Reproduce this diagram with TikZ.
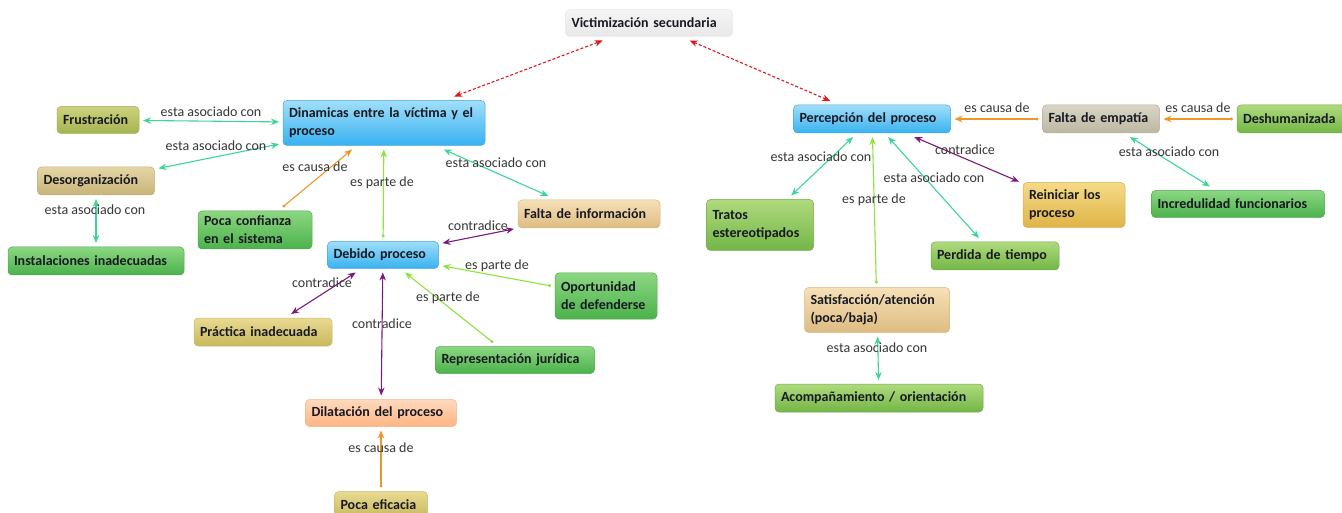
\documentclass[tikz,border=0pt]{standalone}
\usepackage{fontspec}
\setmainfont{Carlito}
\usepackage{xcolor}
\definecolor{ink}{RGB}{25, 25, 35}
\definecolor{lblgray}{RGB}{55, 55, 55}
\definecolor{assocgreen}{RGB}{60, 215, 150}
\definecolor{partegreen}{RGB}{140, 228, 60}
\definecolor{causaorange}{RGB}{238, 150, 40}
\definecolor{contrapurple}{RGB}{125, 25, 125}
\definecolor{linkred}{RGB}{220, 25, 25}
\usetikzlibrary{arrows.meta}

\begin{document}
\begin{tikzpicture}[x=1pt, y=-1pt, >={Stealth[length=8pt, width=6.5pt]},
    concept/.style={rounded corners=4pt, align=left, inner xsep=6pt, inner ysep=3pt, outer sep=4pt, line width=0.5pt, font=\fontsize{14}{18}\selectfont\bfseries, text=ink},
    greybox/.style={concept, top color=black!4, bottom color=black!9, draw=black!8},
    bluebox/.style={concept, top color={rgb,255:red,160;green,222;blue,250}, bottom color={rgb,255:red,55;green,178;blue,240}, draw={rgb,255:red,70;green,165;blue,215}},
    greenbox/.style={concept, top color={rgb,255:red,140;green,215;blue,130}, bottom color={rgb,255:red,75;green,178;blue,75}, draw={rgb,255:red,85;green,165;blue,85}},
    leafbox/.style={concept, top color={rgb,255:red,175;green,218;blue,125}, bottom color={rgb,255:red,115;green,182;blue,70}, draw={rgb,255:red,115;green,170;blue,80}},
    olivebox/.style={concept, top color={rgb,255:red,205;green,210;blue,125}, bottom color={rgb,255:red,165;green,180;blue,80}, draw={rgb,255:red,165;green,172;blue,95}},
    tanbox/.style={concept, top color={rgb,255:red,228;green,214;blue,165}, bottom color={rgb,255:red,200;green,180;blue,120}, draw={rgb,255:red,195;green,178;blue,130}},
    khakibox/.style={concept, top color={rgb,255:red,232;green,218;blue,145}, bottom color={rgb,255:red,200;green,184;blue,92}, draw={rgb,255:red,200;green,185;blue,110}},
    sandbox/.style={concept, top color={rgb,255:red,246;green,224;blue,182}, bottom color={rgb,255:red,222;green,188;blue,130}, draw={rgb,255:red,215;green,185;blue,140}},
    peachbox/.style={concept, top color={rgb,255:red,255;green,218;blue,190}, bottom color={rgb,255:red,255;green,180;blue,130}, draw={rgb,255:red,240;green,180;blue,140}},
    stonebox/.style={concept, top color={rgb,255:red,218;green,214;blue,198}, bottom color={rgb,255:red,188;green,183;blue,162}, draw={rgb,255:red,180;green,176;blue,160}},
    goldbox/.style={concept, top color={rgb,255:red,246;green,218;blue,135}, bottom color={rgb,255:red,222;green,180;blue,70}, draw={rgb,255:red,210;green,175;blue,90}},
    lbl/.style={font=\fontsize{14}{16}\selectfont, text=lblgray, inner sep=1pt},
    assoc/.style={<->, line width=1.1pt, assocgreen},
    parte/.style={{Circle[length=3pt]}->, line width=1.1pt, partegreen},
    causa/.style={{Circle[length=3pt]}->, line width=1.1pt, causaorange},
    contra/.style={<->, line width=1.1pt, contrapurple},
    victlink/.style={<->, line width=1.1pt, linkred, dash pattern=on 3pt off 2pt}]

    \fill[white] (0,0) rectangle (1342,513);
    \useasboundingbox (0,0) rectangle (1342,513);

    % Central concept
    \node[greybox, text width=155pt, minimum height=27pt] (vict) at (649,23) {Victimización secundaria};

    % Left branch
    \node[bluebox, text width=190pt, minimum height=45pt] (dinam) at (384,123) {Dinamicas entre la víctima y el\\proceso};
    \node[olivebox, text width=70pt, minimum height=27pt] (frus) at (98,120) {Frustración};
    \node[tanbox, text width=105pt, minimum height=28pt] (desorg) at (96,181) {Desorganización};
    \node[greenbox, text width=164pt, minimum height=28pt] (instal) at (96,261) {Instalaciones inadecuadas};
    \node[greenbox, text width=102pt, minimum height=38pt] (confianza) at (255,230) {Poca confianza\\en el sistema};
    \node[bluebox, text width=99pt, minimum height=27pt] (debido) at (383,255) {Debido proceso};
    \node[sandbox, text width=130pt, minimum height=28pt] (faltainfo) at (589,214) {Falta de información};
    \node[greenbox, text width=90pt, minimum height=46pt] (oport) at (606,296) {Oportunidad\\de defenderse};
    \node[khakibox, text width=126pt, minimum height=28pt] (practica) at (263,332) {Práctica inadecuada};
    \node[greenbox, text width=147pt, minimum height=27pt] (repres) at (515,360) {Representación jurídica};
    \node[peachbox, text width=139pt, minimum height=27pt] (dilat) at (381,413) {Dilatación del proceso};
    \node[khakibox, text width=81pt, minimum height=27pt] (eficacia) at (381,505) {Poca eficacia};

    % Right branch
    \node[bluebox, text width=145pt, minimum height=28pt] (percep) at (872,119) {Percepción del proceso};
    \node[stonebox, text width=105pt, minimum height=28pt] (empatia) at (1101,119) {Falta de empatía};
    \node[leafbox, text width=104pt, minimum height=28pt] (deshum) at (1295,119) {Deshumanizada};
    \node[greenbox, text width=161pt, minimum height=27pt] (incred) at (1238,204) {Incredulidad funcionarios};
    \node[goldbox, text width=90pt, minimum height=45pt] (reiniciar) at (1074,205) {Reiniciar los\\proceso};
    \node[leafbox, text width=116pt, minimum height=28pt] (perdida) at (995,256) {Perdida de tiempo};
    \node[leafbox, text width=95pt, minimum height=51pt] (tratos) at (760,225) {Tratos\\estereotipados};
    \node[sandbox, text width=133pt, minimum height=45pt] (satisf) at (877,310) {Satisfacción/atención\\(poca/baja)};
    \node[leafbox, text width=196pt, minimum height=28pt] (acomp) at (879,398) {Acompañamiento / orientación};

    % Links
    \draw[victlink] (dinam) -- (vict);
    \draw[victlink] (vict) -- (percep);

    \draw[assoc] (frus) -- (dinam);
    \draw[assoc] (desorg) -- (dinam);
    \draw[assoc] (desorg) -- (instal);
    \draw[causa] (confianza) -- (dinam);
    \draw[parte] (debido) -- (dinam);
    \draw[assoc] (faltainfo) -- (dinam);
    \draw[contra] (debido) -- (faltainfo);
    \draw[parte] (oport) -- (debido);
    \draw[contra] (debido) -- (practica);
    \draw[parte] (repres) -- (debido);
    \draw[contra] (debido) -- (dilat);
    \draw[causa] (eficacia) -- (dilat);

    \draw[causa] (empatia) -- (percep);
    \draw[causa] (deshum) -- (empatia);
    \draw[assoc] (empatia) -- (incred);
    \draw[assoc] (percep) -- (tratos);
    \draw[parte] (satisf) -- (percep);
    \draw[assoc] (percep) -- (perdida);
    \draw[contra] (percep) -- (reiniciar);
    \draw[assoc] (satisf) -- (acomp);

    % Link labels
    \node[lbl] (l1) at (211,112) {esta asociado con};
    \node[lbl] (l2) at (216,146) {esta asociado con};
    \node[lbl] (l3) at (95,210) {esta asociado con};
    \node[lbl] (l4) at (315,167) {es causa de};
    \node[lbl] (l5) at (382,183) {es parte de};
    \node[lbl] (l6) at (496,163) {esta asociado con};
    \node[lbl] (l7) at (478,226) {contradice};
    \node[lbl] (l8) at (497,266) {es parte de};
    \node[lbl] (l9) at (322,283) {contradice};
    \node[lbl] (l10) at (448,298) {es parte de};
    \node[lbl] (l11) at (382,324) {contradice};
    \node[lbl] (l12) at (381,448) {es causa de};
    \node[lbl] (l13) at (997,108) {es causa de};
    \node[lbl] (l14) at (1198,108) {es causa de};
    \node[lbl] (l15) at (1169,152) {esta asociado con};
    \node[lbl] (l16) at (821,157) {esta asociado con};
    \node[lbl] (l17) at (965,150) {contradice};
    \node[lbl] (l18) at (934,178) {esta asociado con};
    \node[lbl] (l19) at (874,200) {es parte de};
    \node[lbl] (l20) at (877,348) {esta asociado con};
\end{tikzpicture}
\end{document}
